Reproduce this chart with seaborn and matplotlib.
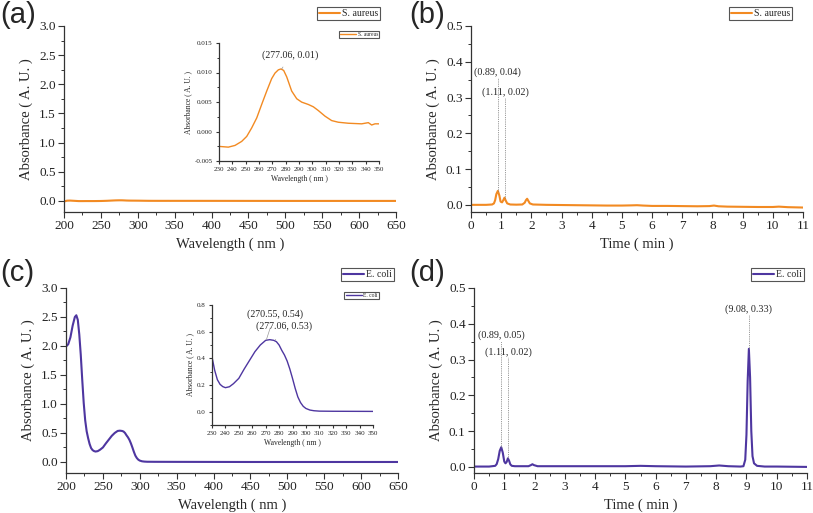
import numpy as np
import pandas as pd
import matplotlib
matplotlib.use("Agg")
import matplotlib.pyplot as plt
from matplotlib.ticker import MultipleLocator
import seaborn as sns

# ---------------- data ----------------
# UV-Vis spectrum, S. aureus
wl_sa = [200, 204, 208, 212, 216, 220, 225, 230.3, 237, 242, 247, 250.8, 254.5, 258.3,
         262, 265.8, 269.5, 272, 274.5, 276.5, 278.5, 280.8, 284.5, 288.3, 292, 297,
         300.8, 304.5, 309.5, 314.5, 319.5, 327, 337, 342, 344.5, 347, 349.5,
         400, 450, 500, 550, 600, 650]
abs_sa = [-0.010, 0.004, 0.006, 0.003, 0.000, -0.003, -0.003, -0.00253, -0.00265,
          -0.00236, -0.00168, -0.00083, 0.0006, 0.0023, 0.00458, 0.00686, 0.00896,
          0.00990, 0.01045, 0.01060, 0.01035, 0.00925, 0.00686, 0.00555, 0.00498,
          0.00458, 0.00418, 0.00355, 0.0026, 0.00185, 0.00157, 0.0014, 0.0013,
          0.0015, 0.0011, 0.0013, 0.0013, 0.001, 0.0005, 0.0, 0.0, 0.0, 0.0]

# UV-Vis spectrum, E. coli
wl_ec = [200, 203, 206, 209, 212, 214, 216, 218, 220, 222, 224, 226, 228, 230, 232,
         234, 236, 238, 240, 243, 246, 250, 254, 258, 262, 266, 270, 273, 276, 278,
         280, 282, 284, 286, 288, 290, 292, 294, 296, 298, 300, 303, 306, 310, 320,
         350, 400, 450, 500, 550, 600, 650]
abs_ec = [1.99, 2.03, 2.15, 2.35, 2.50, 2.53, 2.45, 2.20, 1.85, 1.42, 1.02, 0.72,
          0.53, 0.41, 0.31, 0.24, 0.205, 0.188, 0.180, 0.187, 0.21, 0.25, 0.32,
          0.385, 0.45, 0.50, 0.535, 0.54, 0.535, 0.525, 0.50, 0.46, 0.425, 0.38,
          0.32, 0.25, 0.175, 0.11, 0.068, 0.04, 0.024, 0.012, 0.007, 0.004, 0.003,
          0.002, 0.001, 0.0, 0.0, 0.0, 0.0, 0.0]

# Chromatogram, S. aureus
t_sa = [0, 0.5, 0.7, 0.76, 0.8, 0.84, 0.89, 0.94, 0.98, 1.03, 1.07, 1.11, 1.15,
        1.2, 1.3, 1.5, 1.7, 1.78, 1.82, 1.86, 1.9, 1.95, 2.05, 2.5, 3, 3.5, 4,
        4.5, 5, 5.3, 5.5, 5.7, 6, 6.5, 7, 7.5, 7.9, 8.05, 8.2, 8.5, 9, 9.5, 10,
        10.2, 10.5, 11]
ab_t_sa = [0.0, 0.0, 0.001, 0.004, 0.013, 0.030, 0.039, 0.026, 0.009, 0.007, 0.013,
           0.020, 0.012, 0.004, 0.001, 0.0005, 0.001, 0.006, 0.013, 0.017, 0.011,
           0.004, 0.001, 0.0, -0.0005, -0.001, -0.0015, -0.002, -0.002, -0.0015,
           -0.001, -0.002, -0.003, -0.003, -0.0035, -0.004, -0.0035, -0.002, -0.004,
           -0.005, -0.0055, -0.006, -0.006, -0.005, -0.0065, -0.0075]

# Chromatogram, E. coli
t_ec = [0, 0.5, 0.7, 0.75, 0.8, 0.85, 0.9, 0.95, 1.0, 1.04, 1.08, 1.12, 1.16, 1.2,
        1.25, 1.35, 1.5, 1.8, 1.88, 1.93, 1.98, 2.1, 3, 4, 5, 5.5, 6, 7, 7.8, 8.1,
        8.4, 8.8, 8.9, 8.96, 9.0, 9.04, 9.08, 9.12, 9.16, 9.2, 9.25, 9.35, 9.6, 10, 11]
ab_t_ec = [0.001, 0.001, 0.003, 0.008, 0.022, 0.045, 0.055, 0.040, 0.015, 0.010,
           0.014, 0.024, 0.017, 0.007, 0.003, 0.002, 0.002, 0.002, 0.005, 0.0075,
           0.005, 0.002, 0.002, 0.002, 0.002, 0.003, 0.002, 0.001, 0.002, 0.004,
           0.002, 0.001, 0.002, 0.02, 0.09, 0.24, 0.33, 0.25, 0.10, 0.03, 0.01,
           0.003, 0.001, 0.001, 0.0]

# peak annotations: (x, y, label)
peaks_b = [(0.89, 0.039, "(0.89, 0.04)"), (1.11, 0.020, "(1.11, 0.02)")]
peaks_d = [(0.89, 0.055, "(0.89, 0.05)"), (1.11, 0.024, "(1.11, 0.02)"),
           (9.08, 0.33, "(9.08, 0.33)")]

ORANGE = "#F28A22"
PURPLE = "#4E36A0"

sns.set_theme(style="ticks")
plt.rcParams["font.family"] = ["Liberation Serif", "DejaVu Serif"]
plt.rcParams["axes.linewidth"] = 0.9
plt.rcParams["xtick.direction"] = "out"
plt.rcParams["ytick.direction"] = "out"

W, H = 813, 513
fig = plt.figure(figsize=(W / 100, H / 100), dpi=100)
fig.patch.set_facecolor("white")


def rect(l, r, t, b):
    return [l / W, (H - b) / H, (r - l) / W, (b - t) / H]


def style_axes(ax, fs, major_len=4, minor_len=2.2):
    ax.set_facecolor("white")
    for s in ["top", "right"]:
        ax.spines[s].set_visible(False)
    for s in ["left", "bottom"]:
        ax.spines[s].set_color("#333333")
    ax.tick_params(which="major", length=major_len, width=0.8, labelsize=fs,
                   colors="#333333", labelcolor="#222222", pad=2)
    ax.tick_params(which="minor", length=minor_len, width=0.7, colors="#333333")
    for lab in ax.get_xticklabels() + ax.get_yticklabels():
        lab.set_fontfamily(["Liberation Serif"])


def legend(ax, anchor, fs, handlelen):
    lg = ax.legend(loc="upper right", bbox_to_anchor=anchor, fontsize=fs,
                   frameon=True, fancybox=False, edgecolor="#555555",
                   borderpad=0.2, handlelength=handlelen, handletextpad=0.2,
                   borderaxespad=0, framealpha=1)
    lg.get_frame().set_linewidth(0.8)
    return lg


def panel_label(txt, x, y):
    fig.text(x / W, 1 - y / H, txt, fontsize=21, family=["Liberation Sans"],
             ha="left", va="top")


FS = 9.5

# ---------- (a) ----------
ax_a = fig.add_axes(rect(64, 396, 26, 212))
sns.lineplot(x=wl_sa, y=abs_sa, ax=ax_a, color=ORANGE, lw=1.5, label="S. aureus")
ax_a.set_xlim(200, 650)
ax_a.set_ylim(-0.19, 3.0)
ax_a.xaxis.set_major_locator(MultipleLocator(50))
ax_a.xaxis.set_minor_locator(MultipleLocator(25))
ax_a.yaxis.set_major_locator(MultipleLocator(0.5))
ax_a.yaxis.set_minor_locator(MultipleLocator(0.25))
ax_a.yaxis.set_major_formatter(matplotlib.ticker.FormatStrFormatter("%.1f"))
ax_a.set_xlabel("Wavelength ( nm )", fontsize=FS + 1)
ax_a.set_ylabel("Absorbance ( A. U. )", fontsize=FS + 1)
style_axes(ax_a, FS)
legend(ax_a, (0.952, 1.10), 7, 2.2)

ins_a = fig.add_axes(rect(219, 379, 43, 161))
sns.lineplot(x=wl_sa, y=abs_sa, ax=ins_a, color=ORANGE, lw=1.0, label="S. aureus")
ins_a.set_xlim(230, 350)
ins_a.set_ylim(-0.005, 0.015)
ins_a.xaxis.set_major_locator(MultipleLocator(10))
ins_a.yaxis.set_major_locator(MultipleLocator(0.005))
ins_a.yaxis.set_minor_locator(MultipleLocator(0.0025))
ins_a.yaxis.set_major_formatter(matplotlib.ticker.FormatStrFormatter("%.3f"))
ins_a.set_xlabel("Wavelength ( nm )", fontsize=5.5, labelpad=2)
ins_a.set_ylabel("Absorbance ( A. U. )", fontsize=5.5, labelpad=2)
style_axes(ins_a, 5, major_len=2.5, minor_len=1.5)
legend(ins_a, (1.0, 1.10), 4, 3.0)
ins_a.annotate("(277.06, 0.01)", xy=(277.06, 0.0106), xytext=(283.5, 0.0129),
               fontsize=7.2, ha="center", va="center",
               arrowprops=dict(arrowstyle="-", color="#999999", lw=0.5,
                               shrinkA=3, shrinkB=0))

# ---------- (b) ----------
ax_b = fig.add_axes(rect(471, 803, 26, 212))
sns.lineplot(x=t_sa, y=ab_t_sa, ax=ax_b, color=ORANGE, lw=1.5, label="S. aureus")
ax_b.set_xlim(0, 11)
ax_b.set_ylim(-0.02, 0.5)
ax_b.xaxis.set_major_locator(MultipleLocator(1))
ax_b.xaxis.set_minor_locator(MultipleLocator(0.5))
ax_b.yaxis.set_major_locator(MultipleLocator(0.1))
ax_b.yaxis.set_minor_locator(MultipleLocator(0.05))
ax_b.yaxis.set_major_formatter(matplotlib.ticker.FormatStrFormatter("%.1f"))
ax_b.set_xlabel("Time ( min )", fontsize=FS + 1)
ax_b.set_ylabel("Absorbance ( A. U. )", fontsize=FS + 1)
style_axes(ax_b, FS)
legend(ax_b, (0.967, 1.10), 7, 2.2)
for (px, py, txt), (tx, ty, top) in zip(peaks_b, [(0.89, 0.37, 0.356), (1.15, 0.315, 0.30)]):
    ax_b.plot([px, px], [py, top], ls=(0, (1, 1.2)), color="#777777", lw=0.6)
    ax_b.text(tx, ty, txt, fontsize=7.3, ha="center", va="center")

# ---------- (c) ----------
ax_c = fig.add_axes(rect(66, 398, 288, 473))
sns.lineplot(x=wl_ec, y=abs_ec, ax=ax_c, color=PURPLE, lw=1.5, label="E. coli")
ax_c.set_xlim(200, 650)
ax_c.set_ylim(-0.19, 3.0)
ax_c.xaxis.set_major_locator(MultipleLocator(50))
ax_c.xaxis.set_minor_locator(MultipleLocator(25))
ax_c.yaxis.set_major_locator(MultipleLocator(0.5))
ax_c.yaxis.set_minor_locator(MultipleLocator(0.25))
ax_c.yaxis.set_major_formatter(matplotlib.ticker.FormatStrFormatter("%.1f"))
ax_c.set_xlabel("Wavelength ( nm )", fontsize=FS + 1)
ax_c.set_ylabel("Absorbance ( A. U. )", fontsize=FS + 1)
style_axes(ax_c, FS)
legend(ax_c, (0.988, 1.108), 7, 2.2)

ins_c = fig.add_axes(rect(212, 373, 305, 425))
sns.lineplot(x=wl_ec, y=abs_ec, ax=ins_c, color=PURPLE, lw=1.0, label="E. coli")
ins_c.set_xlim(230, 350)
ins_c.set_ylim(-0.1, 0.8)
ins_c.xaxis.set_major_locator(MultipleLocator(10))
ins_c.yaxis.set_major_locator(MultipleLocator(0.2))
ins_c.yaxis.set_minor_locator(MultipleLocator(0.1))
ins_c.yaxis.set_major_formatter(matplotlib.ticker.FormatStrFormatter("%.1f"))
ins_c.set_xlabel("Wavelength ( nm )", fontsize=5.5, labelpad=2)
ins_c.set_ylabel("Absorbance ( A. U. )", fontsize=5.5, labelpad=2)
style_axes(ins_c, 5, major_len=2.5, minor_len=1.5)
legend(ins_c, (1.037, 1.108), 4, 3.0)
ins_c.annotate("(270.55, 0.54)", xy=(270.55, 0.54), xytext=(276.7, 0.73),
               fontsize=7.2, ha="center", va="center",
               arrowprops=dict(arrowstyle="-", color="#999999", lw=0.5,
                               shrinkA=4, shrinkB=0))
ins_c.annotate("(277.06, 0.53)", xy=(277.06, 0.535), xytext=(283.5, 0.638),
               fontsize=7.2, ha="center", va="center",
               arrowprops=dict(arrowstyle="-", color="#999999", lw=0.5,
                               shrinkA=4, shrinkB=0))

# ---------- (d) ----------
ax_d = fig.add_axes(rect(474, 807, 288, 473))
sns.lineplot(x=t_ec, y=ab_t_ec, ax=ax_d, color=PURPLE, lw=1.5, label="E. coli")
ax_d.set_xlim(0, 11)
ax_d.set_ylim(-0.017, 0.5)
ax_d.xaxis.set_major_locator(MultipleLocator(1))
ax_d.xaxis.set_minor_locator(MultipleLocator(0.5))
ax_d.yaxis.set_major_locator(MultipleLocator(0.1))
ax_d.yaxis.set_minor_locator(MultipleLocator(0.05))
ax_d.yaxis.set_major_formatter(matplotlib.ticker.FormatStrFormatter("%.1f"))
ax_d.set_xlabel("Time ( min )", fontsize=FS + 1)
ax_d.set_ylabel("Absorbance ( A. U. )", fontsize=FS + 1)
style_axes(ax_d, FS)
legend(ax_d, (0.991, 1.108), 7, 2.2)
for (px, py, txt), (tx, ty, top) in zip(peaks_d, [(0.91, 0.367, 0.353),
                                                 (1.13, 0.32, 0.307),
                                                 (9.08, 0.44, 0.425)]):
    ax_d.plot([px, px], [py, top], ls=(0, (1, 1.2)), color="#777777", lw=0.6)
    ax_d.text(tx, ty, txt, fontsize=7.3, ha="center", va="center")

panel_label("(a)", 0, 1)
panel_label("(b)", 409, 1)
panel_label("(c)", 0, 259)
panel_label("(d)", 409, 259)

fig.savefig("out.png", dpi=100, facecolor="white")
